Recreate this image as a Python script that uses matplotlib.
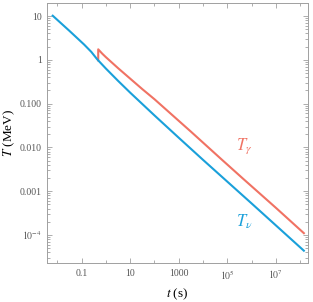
import numpy as np
import matplotlib
matplotlib.use("Agg")
import matplotlib.pyplot as plt
from matplotlib.ticker import FixedLocator, NullFormatter

plt.rcParams['font.family'] = ['Liberation Serif', 'DejaVu Serif']
plt.rcParams['mathtext.fontset'] = 'stix'

# curves as (log10 t [s], log10 T [MeV])
nu_logt = [-2.19, -1.5, -0.9, -0.6, -0.358, 0.0, 0.5, 1.0, 1.5, 2.0, 3.0, 4.0, 6.0, 8.15]
nu_logT = [1.007, 0.66, 0.35, 0.18, 0.011, -0.2, -0.48, -0.75, -1.01, -1.27, -1.78, -2.285, -3.28, -4.358]

gam_logt = [-0.317, -0.317, -0.15, 0.0, 0.5, 1.0, 1.5, 2.0, 2.6, 3.5, 4.76, 5.65, 7.0, 8.15]
gam_logT = [-0.013, 0.24, 0.14, 0.06, -0.19, -0.43, -0.67, -0.90, -1.196, -1.64, -2.273, -2.716, -3.38, -3.958]

xticks = [1e-1, 1e1, 1e3, 1e5, 1e7]
xticklabels = ['0.1', '10', '1000', '$10^5$', '$10^7$']
yticks = [10, 1, 0.1, 0.01, 0.001, 1e-4]
yticklabels = ['10', '1', '0.100', '0.010', '0.001', '$10^{-4}$']

blue = '#1aa0da'
red = '#f07263'
frame = '#a0a0a0'

fig = plt.figure(figsize=(3.13, 3.02), dpi=100)
ax = fig.add_axes([0.151, 0.129, 0.833, 0.860])

ax.plot(10 ** np.array(gam_logt), 10 ** np.array(gam_logT), color=red, lw=1.5)
ax.plot(10 ** np.array(nu_logt), 10 ** np.array(nu_logT), color=blue, lw=1.5)

ax.set_xscale('log')
ax.set_yscale('log')
ax.set_xlim(10 ** -2.415, 10 ** 8.32)
ax.set_ylim(10 ** -4.64, 10 ** 1.29)

ax.xaxis.set_major_locator(FixedLocator(xticks))
ax.set_xticklabels(xticklabels)
ax.xaxis.set_minor_locator(FixedLocator([10.0 ** k for k in range(-2, 9, 2)]))
ax.xaxis.set_minor_formatter(NullFormatter())

ax.yaxis.set_major_locator(FixedLocator(yticks))
ax.set_yticklabels(yticklabels)
ymin = [m * 10.0 ** k for k in range(-5, 2) for m in range(2, 10)]
ax.yaxis.set_minor_locator(FixedLocator(ymin))
ax.yaxis.set_minor_formatter(NullFormatter())

ax.tick_params(which='both', direction='in', top=True, right=True,
               color=frame, labelcolor='#555555', labelsize=7, width=0.6)
ax.tick_params(which='major', length=3.5, pad=4)
ax.tick_params(which='minor', length=2)
for s in ax.spines.values():
    s.set_color(frame)
    s.set_linewidth(0.7)

ax.set_xlabel('$t$ (s)', fontsize=9.5, labelpad=3)
ax.set_ylabel('$T$ (MeV)', fontsize=9.5, labelpad=2)

ax.text(10 ** 5.35, 10 ** -2.06, r'$T_\gamma$', color=red, fontsize=12)
ax.text(10 ** 5.37, 10 ** -3.80, r'$T_\nu$', color=blue, fontsize=12)

fig.savefig('out.png', dpi=100)
